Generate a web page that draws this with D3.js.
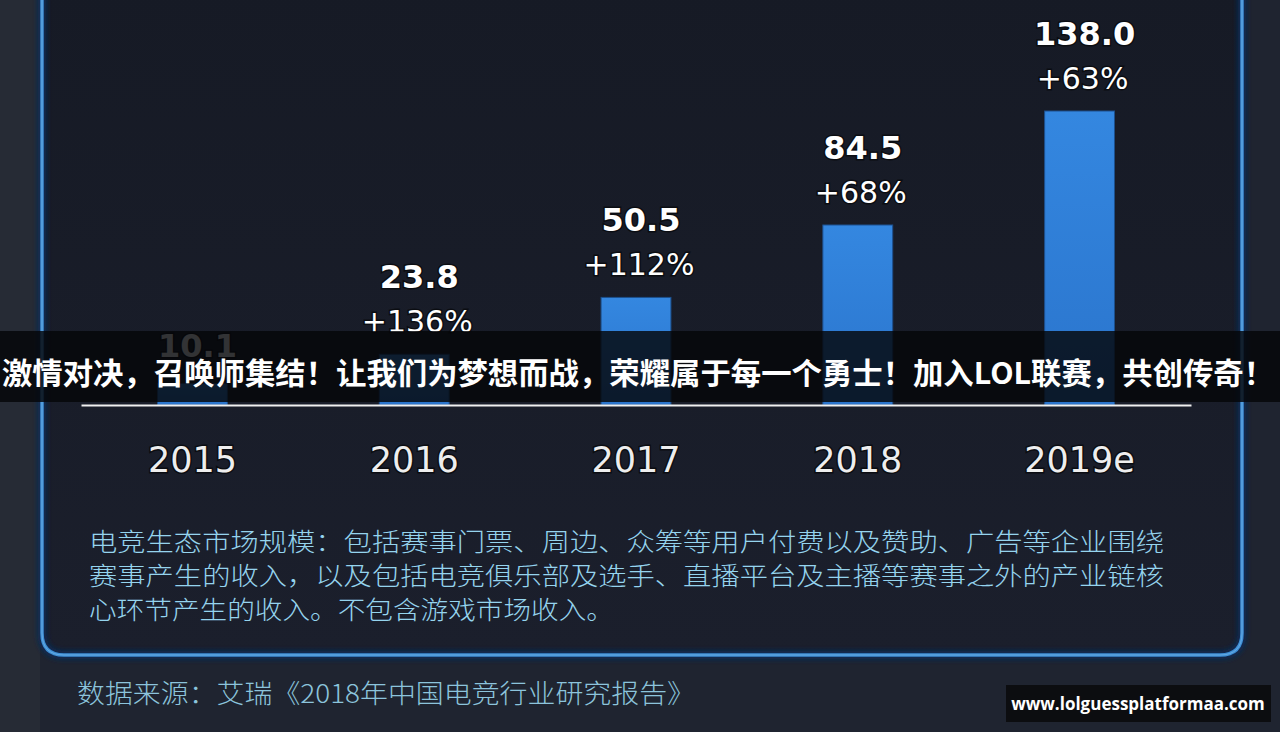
<!DOCTYPE html>
<html><head><meta charset="utf-8">
<script src="https://cdn.jsdelivr.net/npm/d3@7"></script>
<style>html,body{margin:0;padding:0;background:#1d222d;overflow:hidden}</style>
</head><body>
<svg id="c" width="1280" height="732"></svg>
<script>
const years = ["2015","2016","2017","2018","2019e"];
const values = [10.1, 23.8, 50.5, 84.5, 138.0];
const valueLabels = ["10.1","23.8","50.5","84.5","138.0"];
const growthLabels = ["", "+136%", "+112%", "+68%", "+63%"];
const descLines = [
  "电竞生态市场规模：包括赛事门票、周边、众筹等用户付费以及赞助、广告等企业围绕",
  "赛事产生的收入，以及包括电竞俱乐部及选手、直播平台及主播等赛事之外的产业链核",
  "心环节产生的收入。不包含游戏市场收入。"
];
const sourceText = "数据来源：艾瑞《2018年中国电竞行业研究报告》";
const bannerText = "激情对决，召唤师集结！让我们为梦想而战，荣耀属于每一个勇士！加入LOL联赛，共创传奇！";
const watermark = "www.lolguessplatformaa.com";

const svg = d3.select("#c");
const defs = svg.append("defs");
const bg = defs.append("linearGradient").attr("id","bg").attr("x1",0).attr("y1",0).attr("x2",0).attr("y2",1);
bg.append("stop").attr("offset","0%").attr("stop-color","#161a25");
bg.append("stop").attr("offset","100%").attr("stop-color","#1b1f2c");
const bar = defs.append("linearGradient").attr("id","bar").attr("x1",0).attr("y1",0).attr("x2",0).attr("y2",1);
bar.append("stop").attr("offset","0%").attr("stop-color","#3487e0");
bar.append("stop").attr("offset","100%").attr("stop-color","#2a74cc");
const glow = defs.append("filter").attr("id","glow").attr("x","-5%").attr("y","-5%").attr("width","110%").attr("height","110%");
glow.append("feGaussianBlur").attr("stdDeviation",2.5);

// page background
svg.append("rect").attr("width",1280).attr("height",732).attr("fill","#1f2430");
svg.append("rect").attr("x",0).attr("y",0).attr("width",40).attr("height",732).attr("fill","#262b35");

// frame
const fx=42, fr=1242, fb=655, rad=22;
const framePath = `M${fx},-10 L${fx},${fb-rad} Q${fx},${fb} ${fx+rad},${fb} L${fr-rad},${fb} Q${fr},${fb} ${fr},${fb-rad} L${fr},-10`;
svg.append("path").attr("d",framePath+" Z").attr("fill","url(#bg)");
svg.append("path").attr("d",framePath).attr("fill","none").attr("stroke","#0a2a55").attr("stroke-width",9).attr("filter","url(#glow)");
svg.append("path").attr("d",framePath).attr("fill","none").attr("stroke","#3f8fd6").attr("stroke-width",3.5);
svg.append("path").attr("d",framePath).attr("fill","none").attr("stroke","#8cc8f0").attr("stroke-width",1).attr("opacity",0.5);

// scales
const x = d3.scaleBand().domain(years).range([81,1191]).paddingInner(0.685).paddingOuter(0.345);
const base = 405;
const y = d3.scaleLinear().domain([0,138]).range([base,111]);

const g = svg.append("g");
g.selectAll("rect.bar").data(values).join("rect").attr("class","bar")
  .attr("x",(d,i)=>x(years[i])).attr("width",x.bandwidth())
  .attr("y",d=>y(d)).attr("height",d=>base-y(d))
  .attr("fill","url(#bar)").attr("stroke","#1d4f8c").attr("stroke-width",1);

// value labels
g.selectAll("text.val").data(values).join("text").attr("class","val")
  .attr("x",(d,i)=>x(years[i])+x.bandwidth()/2+5)
  .attr("y",(d,i)=>growthLabels[i] ? y(d)-66 : y(d)-26)
  .attr("text-anchor","middle").attr("fill","#ffffff")
  .attr("font-family","DejaVu Sans").attr("font-weight","bold").attr("font-size",32)
  .attr("stroke","#0b0d12").attr("stroke-width",3).attr("paint-order","stroke")
  .text((d,i)=>valueLabels[i]);
g.selectAll("text.pct").data(values).join("text").attr("class","pct")
  .attr("x",(d,i)=>x(years[i])+x.bandwidth()/2+3)
  .attr("y",d=>y(d)-22)
  .attr("text-anchor","middle").attr("fill","#ffffff")
  .attr("font-family","DejaVu Sans").attr("font-size",30)
  .attr("stroke","#0b0d12").attr("stroke-width",3).attr("paint-order","stroke")
  .text((d,i)=>growthLabels[i]);

// axis
const axis = d3.axisBottom(x).tickSize(0).tickPadding(42);
const ax = svg.append("g").attr("transform",`translate(0,${base})`).call(axis);
ax.select(".domain").attr("stroke","#f0f0f0").attr("stroke-width",2.2);
ax.selectAll(".tick text").attr("fill","#eeeeee").attr("font-family","DejaVu Sans").attr("font-size",35)
  .attr("stroke","#0b0d12").attr("stroke-width",3).attr("paint-order","stroke");

// description
svg.selectAll("text.desc").data(descLines).join("text").attr("class","desc")
  .attr("x",89).attr("y",(d,i)=>551+i*34)
  .attr("fill","#95d4ee").attr("font-family","Noto Sans CJK SC").attr("font-size",25)
  .attr("font-weight",300)
  .each(function(d,i){ d3.select(this).attr("textLength", i<2 ? 1075 : 525).attr("lengthAdjust","spacingAndGlyphs"); })
  .text(d=>d);

// source
svg.append("text").attr("x",77).attr("y",703).attr("fill","#8cc4dc")
  .attr("font-family","Noto Sans CJK SC").attr("font-size",26).attr("font-weight",300)
  .attr("textLength",618).attr("lengthAdjust","spacingAndGlyphs").text(sourceText);

// banner overlay
svg.append("rect").attr("x",0).attr("y",331).attr("width",1280).attr("height",71).attr("fill","#050608").attr("opacity",0.82);
svg.append("text").attr("x",2).attr("y",384).attr("fill","#ffffff")
  .attr("font-family","Noto Sans CJK SC").attr("font-weight","bold").attr("font-size",30)
  .attr("textLength",1272).attr("lengthAdjust","spacingAndGlyphs").text(bannerText);

// watermark
svg.append("rect").attr("x",1006).attr("y",685).attr("width",265).attr("height",37).attr("fill","#0c0d10");
svg.append("text").attr("x",1138).attr("y",710).attr("text-anchor","middle").attr("fill","#ffffff")
  .attr("font-family","Open Sans").attr("font-weight","bold").attr("font-size",17).text(watermark);
</script>
</body></html>
